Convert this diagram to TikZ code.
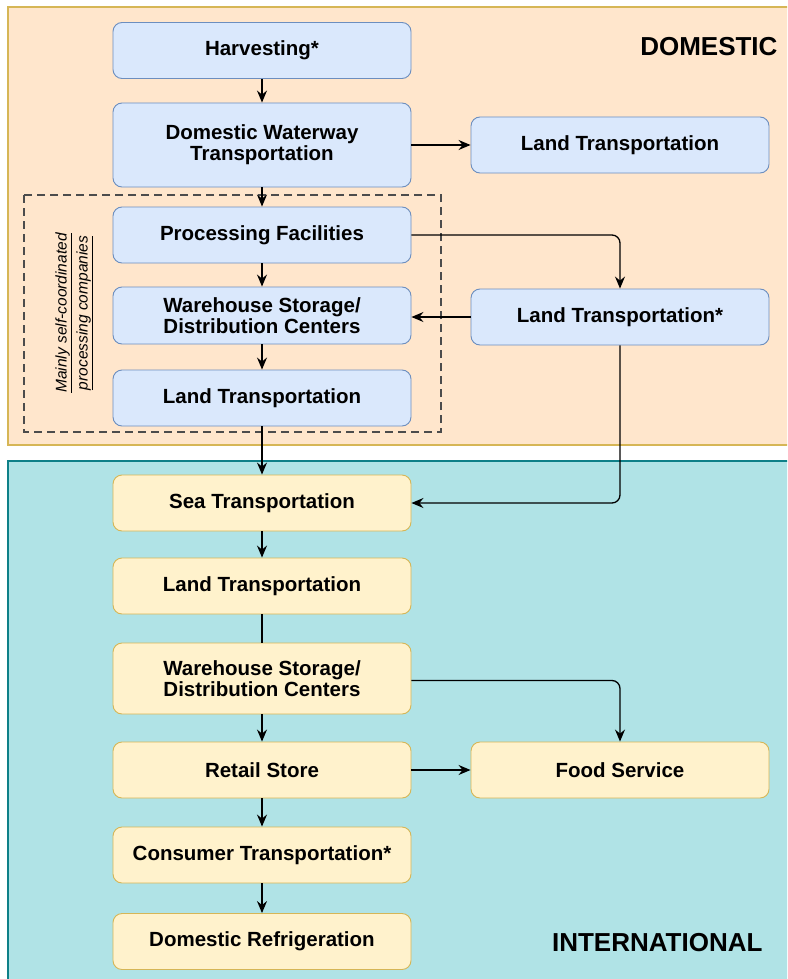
\documentclass[tikz,border=0pt]{standalone}
\usepackage{fontspec}
\setmainfont{Liberation Sans}
\usetikzlibrary{arrows.meta}

\definecolor{domback}{HTML}{FFE6CC}
\definecolor{domedge}{HTML}{D6B656}
\definecolor{intback}{HTML}{B0E3E6}
\definecolor{intedge}{HTML}{0E8088}
\definecolor{bluefill}{HTML}{DAE8FC}
\definecolor{blueline}{HTML}{6C8EBF}
\definecolor{yellowfill}{HTML}{FFF2CC}
\definecolor{yellowline}{HTML}{D6B656}

\begin{document}
\begin{tikzpicture}[x=1pt,y=-1pt,
    stage/.style={draw,rounded corners=9pt,line width=0.9pt,minimum width=298pt,
      minimum height=56pt,align=center,inner sep=2pt,
      font=\fontsize{20.5}{21}\selectfont\bfseries},
    dom/.style={stage,fill=bluefill,draw=blueline},
    intl/.style={stage,fill=yellowfill,draw=yellowline},
    flow/.style={-{Stealth[length=12pt,width=10pt,inset=4pt]},line width=1.3pt,rounded corners=8pt},
    plain/.style={line width=1.3pt},
    region/.style={font=\fontsize{26}{28}\selectfont\bfseries}]
      \clip (0,0) rectangle (787,979);
      % the two areas
      \draw[fill=domback,draw=domedge,line width=1.6pt] (8,7) rectangle (800,445);
      \draw[fill=intback,draw=intedge,line width=1.6pt] (8,461) rectangle (800,990);
      \node[region,anchor=east] (dom_lbl) at (781,47) {DOMESTIC};
      \node[region,anchor=east] (int_lbl) at (766,943) {INTERNATIONAL};
      % processing companies
      \draw[dashed,dash pattern=on 8pt off 5pt,line width=2pt,draw=black!70] (24,195) rectangle (441,432);
      \node[rotate=90,align=center,font=\fontsize{15.5}{21}\selectfont\itshape] (self_lbl) at (74,313)
        {\underline{Mainly self-coordinated}\\ \underline{processing companies}};
      % domestic stages
      \node[dom] (harv) at (262,50.5) {Harvesting*};
      \node[dom,minimum height=84pt] (water) at (262,145) {Domestic Waterway\\Transportation};
      \node[dom] (land_a) at (620,145) {Land Transportation};
      \node[dom] (proc) at (262,235) {Processing Facilities};
      \node[dom,minimum height=57pt] (ware_d) at (262,315.5) {Warehouse Storage/\\Distribution Centers};
      \node[dom] (land_s) at (620,317) {Land Transportation*};
      \node[dom] (land_d) at (262,398) {Land Transportation};
      % international stages
      \node[intl] (sea) at (262,503) {Sea Transportation};
      \node[intl] (land_i) at (262,586) {Land Transportation};
      \node[intl,minimum height=71pt] (ware_i) at (262,678.5) {Warehouse Storage/\\Distribution Centers};
      \node[intl] (retail) at (262,770) {Retail Store};
      \node[intl] (food) at (620,770) {Food Service};
      \node[intl] (cons) at (262,855) {Consumer Transportation*};
      \node[intl] (fridge) at (262,941.5) {Domestic Refrigeration};
      % flows
      \draw[flow] (harv) -- (water);
      \draw[flow] (water) -- (land_a);
      \draw[flow] (water) -- (proc);
      \draw[flow] (proc.east) -| (land_s.north);
      \draw[flow] (land_s.west) -- (land_s.west -| ware_d.east);
      \draw[flow] (proc) -- (ware_d);
      \draw[flow] (ware_d) -- (land_d);
      \draw[flow] (land_d) -- (sea);
      \draw[flow] (land_s.south) |- (sea.east);
      \draw[flow] (sea) -- (land_i);
      \draw[plain] (land_i) -- (ware_i);
      \draw[flow] ([yshift=-2pt]ware_i.east) -| (food.north);
      \draw[flow] (ware_i) -- (retail);
      \draw[flow] (retail) -- (food);
      \draw[flow] (retail) -- (cons);
      \draw[flow] (cons) -- (fridge);
\end{tikzpicture}
\end{document}
